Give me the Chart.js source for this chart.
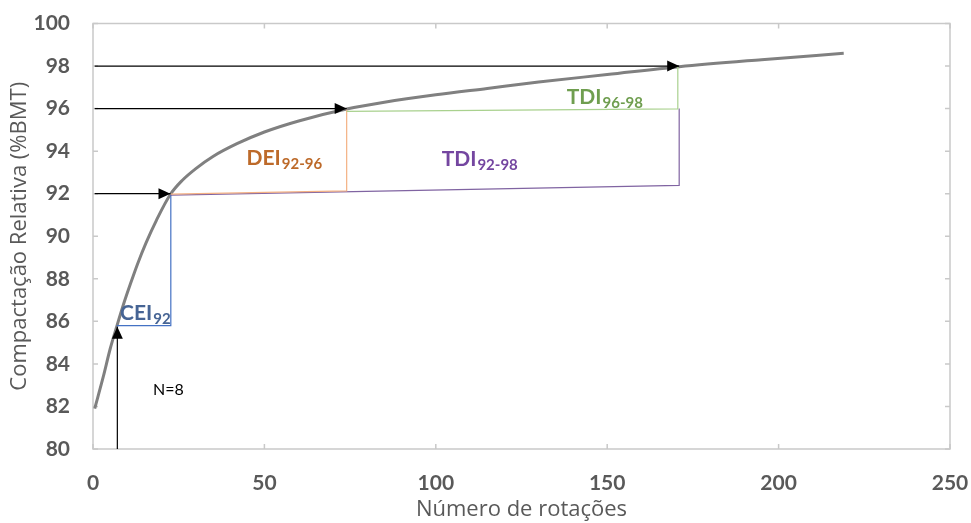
<!DOCTYPE html>
<html lang="pt">
<head>
    <meta charset="UTF-8">
    <title>Compactação Relativa vs Número de rotações</title>
    <script src="https://cdn.jsdelivr.net/npm/chart.js@4.4.1/dist/chart.umd.min.js"></script>
    <style>
        body { margin: 0; padding: 0; background: #ffffff; }
        .wrap { width: 971px; height: 523px; }
    </style>
</head>
<body>
    <div class="wrap"><canvas id="chart" width="971" height="523"></canvas></div>

    <script>
        // curve
        const rotations = [0.5, 3, 5, 7, 9, 11, 13, 15.5, 18.5, 22.5, 26, 30, 35, 42, 50, 60, 74, 85, 100, 115, 130, 150, 171, 195, 219];
        const compaction = [81.9, 83.4, 84.7, 85.8, 86.85, 87.8, 88.7, 89.7, 90.75, 91.95, 92.62, 93.18, 93.75, 94.35, 94.9, 95.42, 95.98, 96.3, 96.65, 96.95, 97.25, 97.6, 97.97, 98.3, 98.6];

        const xTicks = [0, 50, 100, 150, 200, 250];
        const yTicks = [80, 82, 84, 86, 88, 90, 92, 94, 96, 98, 100];

        // annotation geometry, in data units
        const guides = [
            { pts: [[0.5, 92], [22.6, 92]], color: '#000000', arrow: true },
            { pts: [[0.5, 96], [74, 96]], color: '#000000', arrow: true },
            { pts: [[0.5, 98], [171, 98]], color: '#000000', arrow: true },
            { pts: [[7.1, 80], [7.1, 85.75]], color: '#000000', arrow: true },
            { pts: [[6.9, 85.8], [22.7, 85.8], [22.7, 91.95]], color: '#4472C4' },
            { pts: [[22.7, 91.93], [171, 92.39], [171, 96]], color: '#8064A2' },
            { pts: [[22.7, 91.98], [74, 92.13], [74, 95.95]], color: '#F4B183' },
            { pts: [[74, 95.87], [170.6, 95.99], [170.6, 97.95]], color: '#A9D18E' }
        ];

        const tags = [
            { x: 7.9, y: 86.08, main: 'CEI', sub: '92', color: '#466494' },
            { x: 44.8, y: 93.36, main: 'DEI', sub: '92-96', color: '#BD6A2A' },
            { x: 101.7, y: 93.32, main: 'TDI', sub: '92-98', color: '#7446A0' },
            { x: 138.2, y: 96.2, main: 'TDI', sub: '96-98', color: '#6F9E4F' }
        ];

        const frameAndMarks = {
            id: 'frameAndMarks',
            beforeDatasetsDraw(chart) {
                const { ctx, chartArea: a, scales: { x, y } } = chart;
                ctx.save();
                ctx.strokeStyle = '#c9c9c9';
                ctx.lineWidth = 1.5;
                ctx.strokeRect(a.left, a.top, a.right - a.left, a.bottom - a.top);
                ctx.beginPath();
                xTicks.forEach(v => {
                    const px = x.getPixelForValue(v);
                    ctx.moveTo(px, a.bottom); ctx.lineTo(px, a.bottom - 5);
                    ctx.moveTo(px, a.top); ctx.lineTo(px, a.top + 5);
                });
                yTicks.forEach(v => {
                    const py = y.getPixelForValue(v);
                    ctx.moveTo(a.left, py); ctx.lineTo(a.left + 5, py);
                    ctx.moveTo(a.right, py); ctx.lineTo(a.right - 5, py);
                });
                ctx.stroke();
                ctx.restore();
            },
            afterDatasetsDraw(chart) {
                const { ctx, scales: { x, y } } = chart;
                ctx.save();
                guides.forEach(g => {
                    const p = g.pts.map(q => [x.getPixelForValue(q[0]), y.getPixelForValue(q[1])]);
                    ctx.strokeStyle = g.color;
                    ctx.lineWidth = 1.2;
                    ctx.beginPath();
                    p.forEach((q, i) => i ? ctx.lineTo(q[0], q[1]) : ctx.moveTo(q[0], q[1]));
                    ctx.stroke();
                    if (g.arrow) {
                        const [x0, y0] = p[p.length - 2], [x1, y1] = p[p.length - 1];
                        const ang = Math.atan2(y1 - y0, x1 - x0);
                        ctx.fillStyle = g.color;
                        ctx.beginPath();
                        ctx.moveTo(x1, y1);
                        ctx.lineTo(x1 - 12 * Math.cos(ang) + 5.5 * Math.sin(ang), y1 - 12 * Math.sin(ang) - 5.5 * Math.cos(ang));
                        ctx.lineTo(x1 - 12 * Math.cos(ang) - 5.5 * Math.sin(ang), y1 - 12 * Math.sin(ang) + 5.5 * Math.cos(ang));
                        ctx.closePath();
                        ctx.fill();
                    }
                });

                tags.forEach(t => {
                    const px = x.getPixelForValue(t.x), py = y.getPixelForValue(t.y);
                    ctx.fillStyle = t.color;
                    ctx.textAlign = 'left';
                    ctx.textBaseline = 'alphabetic';
                    ctx.font = 'bold 21px Lato';
                    ctx.fillText(t.main, px, py);
                    const w = ctx.measureText(t.main).width;
                    ctx.font = 'bold 15px Lato';
                    ctx.fillText(t.sub, px + w + 1, py + 4);
                });

                ctx.fillStyle = '#000000';
                ctx.font = '16px Lato';
                ctx.textBaseline = 'middle';
                ctx.fillText('N=8', x.getPixelForValue(17.5), y.getPixelForValue(82.8));
                ctx.restore();
            }
        };

        // invisible tick marks push the labels away from the frame
        const hiddenTicks = len => ({
            display: true,
            drawOnChartArea: false,
            drawTicks: true,
            tickLength: len,
            tickColor: 'rgba(0,0,0,0)'
        });

        new Chart(document.getElementById('chart'), {
            type: 'line',
            data: {
                datasets: [{
                    data: rotations.map((r, i) => ({ x: r, y: compaction[i] })),
                    borderColor: '#808080',
                    borderWidth: 3,
                    pointRadius: 0,
                    cubicInterpolationMode: 'monotone',
                    fill: false
                }]
            },
            options: {
                responsive: false,
                animation: false,
                layout: { padding: { left: 0, top: 23.5, right: 21, bottom: 0 } },
                plugins: { legend: { display: false }, tooltip: { enabled: false } },
                scales: {
                    x: {
                        type: 'linear',
                        min: 0,
                        max: 250,
                        afterBuildTicks: s => { s.ticks = xTicks.map(v => ({ value: v })); },
                        afterFit: s => { s.height = 74; },
                        grid: hiddenTicks(22),
                        border: { display: false },
                        ticks: { padding: 0, color: '#595959', font: { family: 'Lato', size: 21, weight: 'bold' } },
                        title: {
                            display: true,
                            text: 'Número de rotações',
                            color: '#595959',
                            font: { family: 'Open Sans', size: 22 },
                            padding: { top: 0, bottom: 0 }
                        }
                    },
                    y: {
                        min: 80,
                        max: 100,
                        afterBuildTicks: s => { s.ticks = yTicks.map(v => ({ value: v })); },
                        afterFit: s => { s.width = 93; },
                        grid: hiddenTicks(23),
                        border: { display: false },
                        ticks: { padding: 0, color: '#595959', font: { family: 'Lato', size: 21, weight: 'bold' } },
                        title: {
                            display: true,
                            text: 'Compactação Relativa (%BMT)',
                            color: '#595959',
                            font: { family: 'Open Sans', size: 22 },
                            padding: { top: 7, bottom: 0 }
                        }
                    }
                }
            },
            plugins: [frameAndMarks]
        });
    </script>
</body>
</html>
